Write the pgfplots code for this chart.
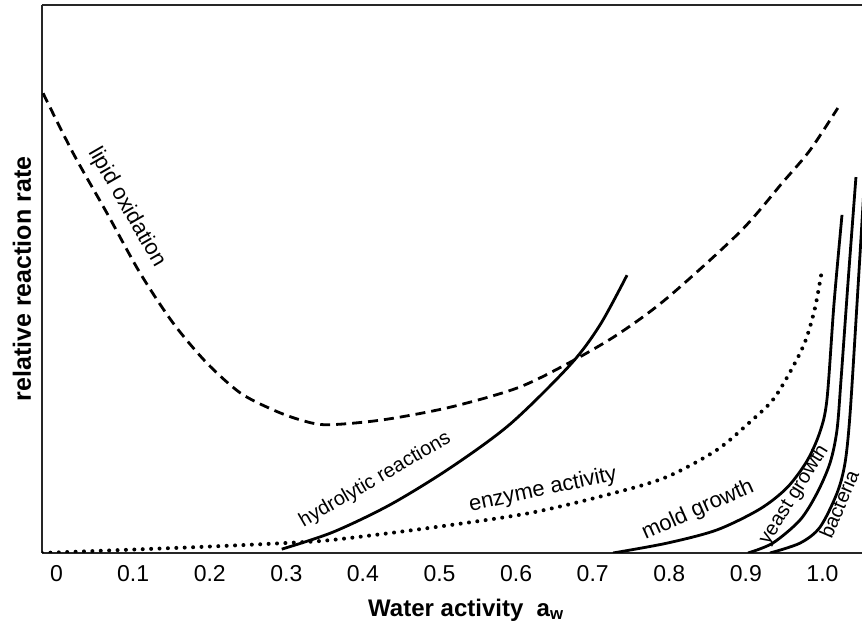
\documentclass[border=0pt]{standalone}
\usepackage{fontspec}
\setmainfont{Liberation Sans}
\usepackage{pgfplots}
\pgfplotsset{compat=1.18}
\begin{document}
\begin{tikzpicture}
\begin{axis}[
  scale only axis, width=820pt, height=548pt,
  xmin=-0.019, xmax=1.0516, ymin=0, ymax=100,
  axis lines=left, axis line style={-, line width=1.8pt, black!85},
  ytick=\empty,
  xtick={0,0.1,0.2,0.3,0.4,0.5,0.6,0.7,0.8,0.9,1.0},
  xticklabels={0,0.1,0.2,0.3,0.4,0.5,0.6,0.7,0.8,0.9,1.0},
  major tick length=0pt,
  /pgf/number format/assume math mode=true,
  xticklabel style={font=\fontsize{23}{26}\selectfont, yshift=-9pt},
  xlabel={Water activity\ \ a\textsubscript{w}},
  xlabel style={font=\fontsize{24}{28}\selectfont\bfseries, at={(rel axis cs:0.517,0)}, anchor=center, yshift=-57pt},
  ylabel={relative reaction rate},
  ylabel style={font=\fontsize{25}{28}\selectfont\bfseries, at={(rel axis cs:0,0.5)}, anchor=center, yshift=20pt},
  clip=true,
]
\draw[line width=1.8pt, black!85] (rel axis cs:0,1) -- (rel axis cs:1,1);
% lipid oxidation
\addplot[black, line width=2.8pt, dash pattern=on 10pt off 6pt, smooth] coordinates {
(-0.0176,83.9) (0.0215,73.0) (0.0659,62.0) (0.109,51.1) (0.152,42.0) (0.196,34.7)
(0.240,29.2) (0.283,26.1) (0.318,24.3) (0.353,23.4) (0.426,24.3) (0.5137,26.6)
(0.6012,30.1) (0.6664,34.5) (0.7317,39.8) (0.797,46.5) (0.8923,58.6) (0.9485,67.7) (0.9837,73.5) (1.020,81.2)};
% hydrolytic reactions
\addplot[black, line width=2.8pt, smooth] coordinates {
(0.294,0.7) (0.3607,3.8) (0.4354,8.8) (0.5137,15.5) (0.592,23.5) (0.6704,34.3) (0.7095,41.6) (0.7448,50.7)};
% enzyme activity
\addplot[black, line width=4pt, dash pattern=on 0pt off 8.4pt, line cap=round, smooth] coordinates {
(-0.019,0) (0.057,0.4) (0.187,1.1) (0.296,1.8) (0.361,2.4) (0.488,4.6) (0.618,7.3)
(0.7265,10.9) (0.797,13.9) (0.862,18.8) (0.9053,23.9) (0.935,27.9) (0.9576,33.0)
(0.9772,38.5) (0.9902,44.7) (0.9993,51.6)};
% mold growth
\addplot[black, line width=2.8pt, smooth] coordinates {
(0.7265,0) (0.797,1.8) (0.862,4.2) (0.918,8.0) (0.9536,11.9) (0.9798,16.8) (0.9967,22.1)
(1.0059,28.1) (1.0151,45.6) (1.0255,61.7)};
% yeast growth
\addplot[black, line width=2.8pt, smooth] coordinates {
(0.9027,0) (0.935,1.8) (0.9706,6.0) (0.9928,10.9) (1.0098,16.4) (1.0189,22.4)
(1.0242,31.6) (1.0333,49.3) (1.0437,68.6)};
% bacteria
\addplot[black, line width=2.8pt, smooth] coordinates {
(0.9315,0) (0.9706,1.8) (0.9967,4.7) (1.0189,10.9) (1.0294,16.4) (1.0359,25.2)
(1.0450,45.3) (1.0568,72.6)};
% labels
\node[font=\fontsize{22}{24}\selectfont, rotate=-60] at (axis cs:0.092,63.1) {lipid oxidation};
\node[font=\fontsize{20}{24}\selectfont, rotate=30] at (axis cs:0.416,13.3) {hydrolytic reactions};
\node[font=\fontsize{22}{24}\selectfont, rotate=12] at (axis cs:0.635,11.5) {enzyme activity};
\node[font=\fontsize{22}{24}\selectfont, rotate=24] at (axis cs:0.8375,7.8) {mold growth};
\node[font=\fontsize{20}{24}\selectfont, rotate=58] at (axis cs:0.9630,10.6) {yeast growth};
\node[font=\fontsize{20}{24}\selectfont, rotate=67] at (axis cs:1.0215,8.9) {bacteria};
\end{axis}
\pgfresetboundingbox
\useasboundingbox (-42pt,-73pt) rectangle (820pt,553pt);
\end{tikzpicture}
\end{document}
